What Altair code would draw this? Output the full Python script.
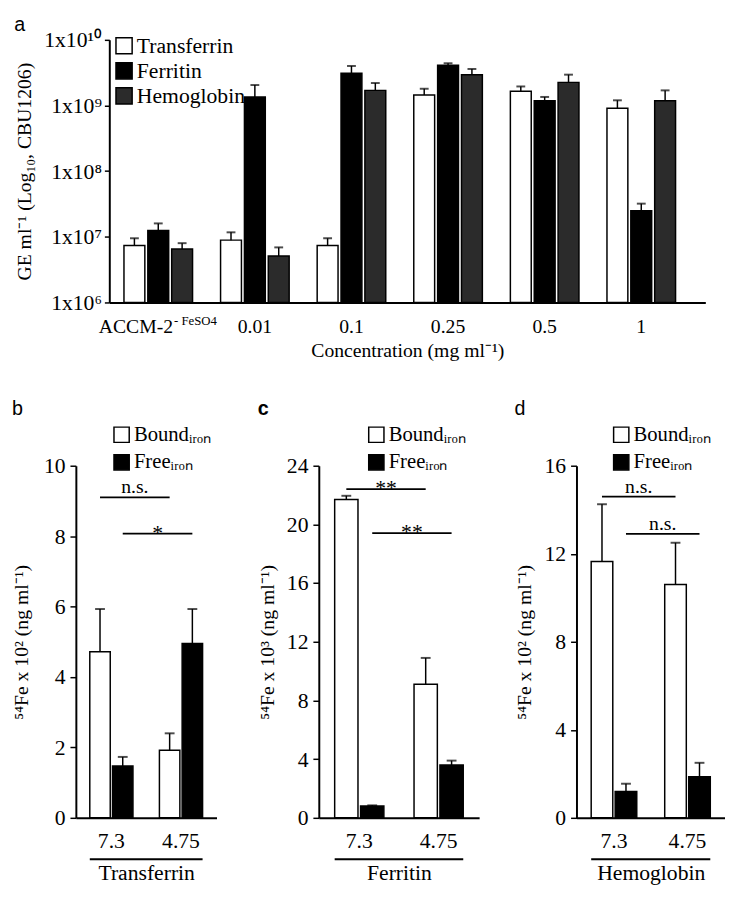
import altair as alt
import pandas as pd

SERIF = "Liberation Serif"
SANS = "Liberation Sans"

# ---------------- Panel a data ----------------
concentrations = ["ACCM-2", "0.01", "0.1", "0.25", "0.5", "1"]
proteins = ["Transferrin", "Ferritin", "Hemoglobin"]
protein_colors = ["#ffffff", "#000000", "#2b2b2b"]

transferrin_ge = [7.4e6, 8.9e6, 7.4e6, 1.45e9, 1.65e9, 9.1e8]
transferrin_hi = [9.5e6, 1.17e7, 9.5e6, 1.8e9, 1.95e9, 1.2e9]
ferritin_ge = [1.25e7, 1.35e9, 3.1e9, 4.1e9, 1.18e9, 2.5e7]
ferritin_hi = [1.6e7, 2.05e9, 4.0e9, 4.4e9, 1.35e9, 3.2e7]
hemoglobin_ge = [6.5e6, 5.1e6, 1.7e9, 2.95e9, 2.25e9, 1.18e9]
hemoglobin_hi = [8.0e6, 6.9e6, 2.2e9, 3.6e9, 2.95e9, 1.7e9]

y_ticks_a = [1e6, 1e7, 1e8, 1e9, 1e10]
y_tick_labels_a = ["1x10⁶", "1x10⁷", "1x10⁸", "1x10⁹", "1x10¹⁰"]

# ---------------- Panels b-d data ----------------
ph_levels = ["7.3", "4.75"]
iron_levels = ["Bound", "Free"]

tf_bound = [4.72, 1.92]
tf_bound_hi = [5.93, 2.4]
tf_free = [1.47, 4.95]
tf_free_hi = [1.73, 5.93]
tf_sig_y = [9.1, 8.07]
tf_sig_txt = ["n.s.", "*"]

ft_bound = [21.7, 9.1]
ft_bound_hi = [21.95, 10.9]
ft_free = [0.8, 3.6]
ft_free_hi = [0.85, 3.9]
ft_sig_y = [22.4, 19.4]
ft_sig_txt = ["**", "**"]

hb_bound = [11.65, 10.6]
hb_bound_hi = [14.25, 12.5]
hb_free = [1.2, 1.87]
hb_free_hi = [1.55, 2.5]
hb_sig_y = [14.6, 12.9]
hb_sig_txt = ["n.s.", "n.s."]

# ---------------- Panel a ----------------
rows = []
for prot, vals, his in [("Transferrin", transferrin_ge, transferrin_hi),
                        ("Ferritin", ferritin_ge, ferritin_hi),
                        ("Hemoglobin", hemoglobin_ge, hemoglobin_hi)]:
    for c, v, h in zip(concentrations, vals, his):
        rows.append({"conc": c, "protein": prot, "ge": v, "hi": h})
df_a = pd.DataFrame(rows)

SHIFT = 34            # y axis of panel a sits this far right of panel b's
W_A, H_A = 640, 267
y_label_expr = "{" + ",".join(
    "'%d': '%s'" % (int(v), l) for v, l in zip(y_ticks_a, y_tick_labels_a)
) + "}[format(datum.value, 'd')]"
is_accm = "datum.value === 'ACCM-2'"

x_a = alt.X(
    "conc:N", sort=concentrations,
    scale=alt.Scale(paddingInner=0.29, paddingOuter=0.23, align=0.33,
                    range=[SHIFT, W_A]),
    axis=alt.Axis(
        title="Concentration (mg ml⁻¹)", labelAngle=0, ticks=False,
        domainColor="black", domainWidth=2, labelFont=SERIF, labelFontSize=20,
        labelColor="black", labelPadding=15,
        labelAlign={"condition": {"test": is_accm, "value": "right"}, "value": "center"},
        labelOffset={"condition": {"test": is_accm, "value": 15}, "value": 0},
        titleFont=SERIF, titleFontSize=20, titleFontWeight="normal",
        titleColor="black", titlePadding=4,
    ),
)
xo_a = alt.XOffset("protein:N", sort=proteins,
                   scale=alt.Scale(paddingInner=0.125, paddingOuter=0))
y_a = alt.Y(
    "ge:Q",
    scale=alt.Scale(type="log", domain=[1e6, 1e10]),
    axis=alt.Axis(
        values=y_ticks_a, labelExpr=y_label_expr, grid=False, offset=-SHIFT,
        title="GE ml⁻¹ (Log₁₀, CBU1206)", tickSize=5, tickWidth=1.5,
        tickColor="black", domainColor="black", domainWidth=2,
        labelFont=SERIF, labelFontSize=22, labelColor="black", labelPadding=3,
        titleFont=SERIF, titleFontSize=20, titleFontWeight="normal",
        titleColor="black", titlePadding=10,
    ),
)

bars_a = alt.Chart(df_a).mark_bar(stroke="black", strokeWidth=1.5).encode(
    x=x_a, xOffset=xo_a, y=y_a, y2=alt.datum(1e6),
    color=alt.Color(
        "protein:N", sort=proteins,
        scale=alt.Scale(domain=proteins, range=protein_colors),
        legend=alt.Legend(
            title=None, orient="none", legendX=SHIFT + 4, legendY=-5,
            symbolType="square", symbolSize=270, symbolStrokeColor="black",
            symbolStrokeWidth=1.5, symbolOpacity=1,
            labelFont=SERIF, labelFontSize=22, labelColor="black",
            rowPadding=1.5, labelOffset=2, padding=0,
        ),
    ),
)
err_a = alt.Chart(df_a).mark_rule(color="black", strokeWidth=1.5).encode(
    x=x_a, xOffset=xo_a, y="ge:Q", y2="hi:Q")
cap_a = alt.Chart(df_a).mark_tick(color="black", thickness=2, size=9).encode(
    x=x_a, xOffset=xo_a, y="hi:Q")
sup_a = alt.Chart(pd.DataFrame({"conc": ["ACCM-2"], "sup": ["- FeSO4"]})).mark_text(
    align="left", baseline="top", dx=16, font=SERIF, fontSize=13, color="black"
).encode(x=alt.X("conc:N", sort=concentrations), y=alt.value(H_A + 13), text="sup:N")

chart_a = alt.layer(bars_a, err_a, cap_a, sup_a).properties(
    width=W_A, height=H_A,
    title=alt.TitleParams("a", anchor="start", frame="bounds", font=SANS,
                          fontSize=20, fontWeight="normal", offset=-6, color="black"),
)


# ---------------- Panels b-d ----------------
def panel(letter, protein, bound, bound_hi, free, free_hi, sig_y, sig_txt,
          ymax, ystep, exponent, width, legend_x, weight, title_pad):
    H = 358
    p_in, p_out, o_in = 0.38, 0.2, 0.1
    step = width / (2 - p_in + 2 * p_out)
    bw = step * (1 - p_in)
    ostep = bw / (2 - o_in)
    rows = []
    for iron, vals, his in [("Bound", bound, bound_hi), ("Free", free, free_hi)]:
        for ph, v, h in zip(ph_levels, vals, his):
            rows.append({"ph": ph, "iron": iron, "value": v, "hi": h})
    df = pd.DataFrame(rows)

    x = alt.X(
        "ph:N", sort=ph_levels,
        scale=alt.Scale(paddingInner=p_in, paddingOuter=p_out),
        axis=alt.Axis(
            title=protein, labelAngle=0, ticks=False, domainColor="black",
            domainWidth=2, labelFont=SERIF, labelFontSize=22, labelColor="black",
            labelPadding=13, titleFont=SERIF, titleFontSize=22,
            titleFontWeight="normal", titleColor="black", titlePadding=12,
        ),
    )
    xo = alt.XOffset("iron:N", sort=iron_levels,
                     scale=alt.Scale(paddingInner=o_in, paddingOuter=0))
    y = alt.Y(
        "value:Q", scale=alt.Scale(domain=[0, ymax], nice=False),
        axis=alt.Axis(
            values=list(range(0, ymax + 1, ystep)), grid=False,
            title="⁵⁴Fe x 10" + exponent + " (ng ml⁻¹)", tickSize=6,
            tickWidth=1.5, tickColor="black", domainColor="black", domainWidth=2,
            labelFont=SERIF, labelFontSize=22, labelColor="black", labelPadding=5,
            titleFont=SERIF, titleFontSize=20, titleFontWeight="normal",
            titleColor="black", titlePadding=title_pad,
        ),
    )
    bars = alt.Chart(df).mark_bar(stroke="black", strokeWidth=1.5).encode(
        x=x, xOffset=xo, y=y,
        color=alt.Color(
            "iron:N", sort=iron_levels,
            scale=alt.Scale(domain=iron_levels, range=["#ffffff", "#000000"]),
            legend=alt.Legend(
                title=None, orient="none", legendX=legend_x, legendY=-42,
                symbolType="square", symbolSize=240, symbolStrokeColor="black",
                symbolStrokeWidth=1.5, symbolOpacity=1,
                labelExpr="datum.label + 'ᵢᵣₒₙ'",
                labelFont=SERIF, labelFontSize=21, labelColor="black",
                rowPadding=5, labelOffset=2, padding=0,
            ),
        ),
    )
    err = alt.Chart(df).mark_rule(color="black", strokeWidth=1.5).encode(
        x=x, xOffset=xo, y="value:Q", y2="hi:Q")
    cap = alt.Chart(df).mark_tick(color="black", thickness=2, size=10).encode(
        x=x, xOffset=xo, y="hi:Q")

    layers = [bars, err, cap]
    for iron, sy, st in zip(iron_levels, sig_y, sig_txt):
        off = -ostep / 2 if iron == "Bound" else ostep / 2
        sdf = pd.DataFrame({"ph": [ph_levels[0]], "ph2": [ph_levels[1]],
                            "y": [sy], "label": [st]})
        layers.append(alt.Chart(sdf).mark_rule(
            color="black", strokeWidth=1.8, xOffset=off, x2Offset=off
        ).encode(x=alt.X("ph:N", sort=ph_levels), x2="ph2:N", y="y:Q"))
        is_star = st.startswith("*")
        layers.append(alt.Chart(sdf).mark_text(
            font=SERIF, fontSize=22 if is_star else 20, color="black",
            baseline="alphabetic", align="center",
            dx=step / 2 + off, dy=6 if is_star else -4,
        ).encode(x=alt.X("ph:N", sort=ph_levels), y="y:Q", text="label:N"))

    udf = pd.DataFrame({"ph": [ph_levels[0]], "ph2": [ph_levels[1]]})
    layers.append(alt.Chart(udf).mark_rule(
        color="black", strokeWidth=2, xOffset=-bw / 2, x2Offset=bw / 2
    ).encode(x=alt.X("ph:N", sort=ph_levels), x2="ph2:N", y=alt.value(H + 42)))

    return alt.layer(*layers).properties(
        width=width, height=H,
        title=alt.TitleParams(letter, anchor="start", frame="bounds", font=SANS,
                              fontSize=20, fontWeight=weight, offset=6,
                              color="black"),
    )


chart_b = panel("b", "Transferrin", tf_bound, tf_bound_hi, tf_free, tf_free_hi,
                tf_sig_y, tf_sig_txt, 10, 2, "²", 143, 36, "normal", 12)
chart_c = panel("c", "Ferritin", ft_bound, ft_bound_hi, ft_free, ft_free_hi,
                ft_sig_y, ft_sig_txt, 24, 4, "³", 163, 48, "bold", 9)
chart_d = panel("d", "Hemoglobin", hb_bound, hb_bound_hi, hb_free, hb_free_hi,
                hb_sig_y, hb_sig_txt, 16, 4, "²", 151, 35, "normal", 10)

indep = dict(x="independent", y="independent", color="independent",
             xOffset="independent")

cd = alt.hconcat(chart_c, chart_d, spacing=36).resolve_scale(
    **indep).resolve_legend(color="independent")
bottom = alt.hconcat(chart_b, cd, spacing=42).resolve_scale(
    **indep).resolve_legend(color="independent")

chart = alt.vconcat(chart_a, bottom, spacing=39).resolve_scale(
    **indep).resolve_legend(color="independent").properties(
    padding={"left": 4, "top": 0, "right": 0, "bottom": 0}
).configure(
    background="white", font=SERIF
).configure_view(strokeWidth=0).configure_axis(
    labelFont=SERIF, titleFont=SERIF
).configure_legend(labelFont=SERIF)

chart.save("out.html", embed_options={"renderer": "svg", "actions": False})
